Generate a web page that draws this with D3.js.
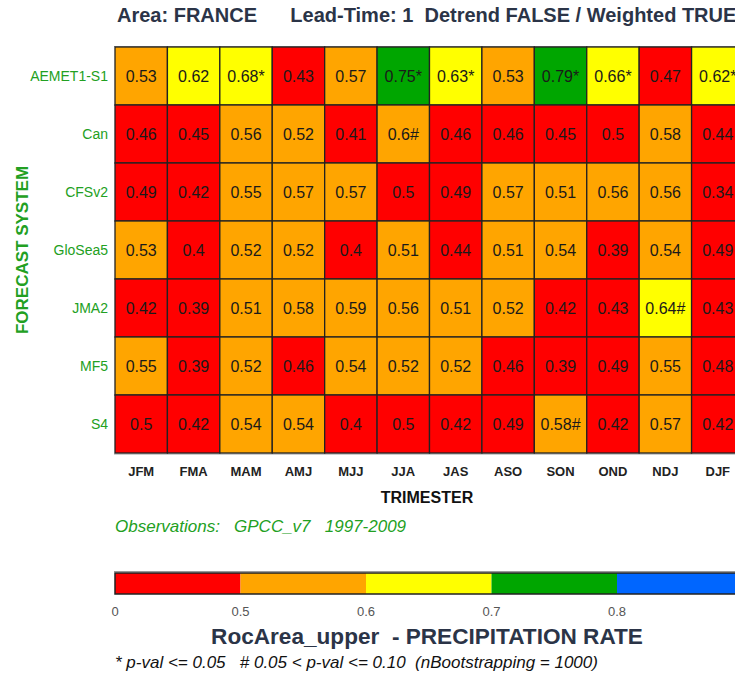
<!DOCTYPE html>
<html>
<head>
<meta charset="utf-8">
<script src="https://cdn.jsdelivr.net/npm/d3@7"></script>
<style>
    body { margin: 0; background: #fff; }
    svg { font-family: "Liberation Sans", Arial, sans-serif; }
    .cell text { font-size: 16px; fill: #1a1a1a; }
    .ylab { font-size: 14px; fill: #22a022; }
    .xlab { font-size: 13px; fill: #222; font-weight: bold; }
</style>
</head>
<body>
<svg id="chart" width="735" height="676"></svg>
<script>
var systems = ["AEMET1-S1", "Can", "CFSv2", "GloSea5", "JMA2", "MF5", "S4"];
var trimesters = ["JFM", "FMA", "MAM", "AMJ", "MJJ", "JJA", "JAS", "ASO", "SON", "OND", "NDJ", "DJF"];

var values = [
    [0.53, 0.62, 0.68, 0.43, 0.57, 0.75, 0.63, 0.53, 0.79, 0.66, 0.47, 0.62],
    [0.46, 0.45, 0.56, 0.52, 0.41, 0.6, 0.46, 0.46, 0.45, 0.5, 0.58, 0.44],
    [0.49, 0.42, 0.55, 0.57, 0.57, 0.5, 0.49, 0.57, 0.51, 0.56, 0.56, 0.34],
    [0.53, 0.4, 0.52, 0.52, 0.4, 0.51, 0.44, 0.51, 0.54, 0.39, 0.54, 0.49],
    [0.42, 0.39, 0.51, 0.58, 0.59, 0.56, 0.51, 0.52, 0.42, 0.43, 0.64, 0.43],
    [0.55, 0.39, 0.52, 0.46, 0.54, 0.52, 0.52, 0.46, 0.39, 0.49, 0.55, 0.48],
    [0.5, 0.42, 0.54, 0.54, 0.4, 0.5, 0.42, 0.49, 0.58, 0.42, 0.57, 0.42]
];

// significance: * p<=0.05, # 0.05<p<=0.10
var marks = [
    ["", "", "*", "", "", "*", "*", "", "*", "*", "", "*"],
    ["", "", "", "", "", "#", "", "", "", "", "", ""],
    ["", "", "", "", "", "", "", "", "", "", "", ""],
    ["", "", "", "", "", "", "", "", "", "", "", ""],
    ["", "", "", "", "", "", "", "", "", "", "#", ""],
    ["", "", "", "", "", "", "", "", "", "", "", ""],
    ["", "", "", "", "", "", "", "", "#", "", "", ""]
];

var breaks = [0, 0.5, 0.6, 0.7, 0.8, 0.9];
var colors = ["#ff0000", "#ffa500", "#ffff00", "#00a600", "#0066ff"];

var svg = d3.select("#chart");

var x = d3.scaleBand().domain(trimesters).range([115, 744]);
var y = d3.scaleBand().domain(systems).range([47, 453]);

// classes are closed on the right: (0.5, 0.6] -> orange
function color(v) {
    var i = d3.bisectLeft(breaks, v) - 1;
    return colors[Math.max(0, Math.min(colors.length - 1, i))];
}

// title
svg.append("text")
    .attr("x", 117).attr("y", 22)
    .attr("font-size", 20).attr("font-weight", "bold").attr("fill", "#2b3447")
    .attr("xml:space", "preserve")
    .text("Area: FRANCE      Lead-Time: 1  Detrend FALSE / Weighted TRUE");

// plot frame lines
svg.append("line")
    .attr("x1", 114).attr("x2", 735).attr("y1", 46.5).attr("y2", 46.5)
    .attr("stroke", "#999");
svg.append("line")
    .attr("x1", 114).attr("x2", 735).attr("y1", 454).attr("y2", 454)
    .attr("stroke", "#999");

var cells = [];
values.forEach(function(row, i) {
    row.forEach(function(v, j) {
        cells.push({sys: systems[i], tri: trimesters[j], v: v, m: marks[i][j]});
    });
});

var cell = svg.append("g").attr("class", "cell")
    .selectAll("g")
    .data(cells)
    .enter().append("g");

cell.append("rect")
    .attr("x", function(d) { return x(d.tri); })
    .attr("y", function(d) { return y(d.sys); })
    .attr("width", x.bandwidth())
    .attr("height", y.bandwidth())
    .attr("fill", function(d) { return color(d.v); })
    .attr("stroke", "#222")
    .attr("stroke-width", 1.3);

cell.append("text")
    .attr("x", function(d) { return x(d.tri) + x.bandwidth() / 2; })
    .attr("y", function(d) { return y(d.sys) + y.bandwidth() / 2 + 6; })
    .attr("text-anchor", "middle")
    .text(function(d) { return String(d.v) + d.m; });

// y labels
svg.append("g").selectAll("text")
    .data(systems)
    .enter().append("text")
    .attr("class", "ylab")
    .attr("x", 108)
    .attr("y", function(d) { return y(d) + y.bandwidth() / 2 + 5; })
    .attr("text-anchor", "end")
    .text(function(d) { return d; });

svg.append("text")
    .attr("transform", "translate(28," + ((y.range()[0] + y.range()[1]) / 2) + ") rotate(-90)")
    .attr("text-anchor", "middle")
    .attr("font-size", 17).attr("font-weight", "bold").attr("fill", "#22a022")
    .text("FORECAST SYSTEM");

// x labels
svg.append("g").selectAll("text")
    .data(trimesters)
    .enter().append("text")
    .attr("class", "xlab")
    .attr("x", function(d) { return x(d) + x.bandwidth() / 2; })
    .attr("y", 476)
    .attr("text-anchor", "middle")
    .text(function(d) { return d; });

svg.append("text")
    .attr("x", 427).attr("y", 503)
    .attr("text-anchor", "middle")
    .attr("font-size", 16).attr("font-weight", "bold").attr("fill", "#111")
    .text("TRIMESTER");

svg.append("text")
    .attr("x", 115).attr("y", 532)
    .attr("font-size", 17).attr("font-style", "italic").attr("fill", "#22a022")
    .attr("xml:space", "preserve")
    .text("Observations:   GPCC_v7   1997-2009");

// colour bar
var cb = d3.scaleLinear().domain(breaks).range([115, 240.5, 366, 491.5, 617, 742.5]);
var bar = svg.append("g");

bar.append("line")
    .attr("x1", 114).attr("x2", 735).attr("y1", 571.5).attr("y2", 571.5)
    .attr("stroke", "#999");

bar.selectAll("rect")
    .data(colors)
    .enter().append("rect")
    .attr("x", function(d, i) { return cb(breaks[i]); })
    .attr("y", 573)
    .attr("width", function(d, i) { return cb(breaks[i + 1]) - cb(breaks[i]); })
    .attr("height", 21)
    .attr("fill", function(d) { return d; });

bar.append("rect")
    .attr("x", 115).attr("y", 573)
    .attr("width", cb(0.9) - 115).attr("height", 21)
    .attr("fill", "none").attr("stroke", "#222").attr("stroke-width", 1.5);

bar.selectAll("text")
    .data(breaks.slice(0, 5))
    .enter().append("text")
    .attr("x", function(d) { return cb(d); })
    .attr("y", 616)
    .attr("text-anchor", "middle")
    .attr("font-size", 13).attr("fill", "#555")
    .text(function(d) { return String(d); });

svg.append("text")
    .attr("x", 427).attr("y", 644)
    .attr("text-anchor", "middle")
    .attr("font-size", 22.6).attr("font-weight", "bold").attr("fill", "#2b3447")
    .attr("xml:space", "preserve")
    .text("RocArea_upper  - PRECIPITATION RATE");

svg.append("text")
    .attr("x", 115).attr("y", 668)
    .attr("font-size", 17).attr("font-style", "italic").attr("fill", "#111")
    .attr("xml:space", "preserve")
    .text("* p-val <= 0.05   # 0.05 < p-val <= 0.10  (nBootstrapping = 1000)");
</script>
</body>
</html>
